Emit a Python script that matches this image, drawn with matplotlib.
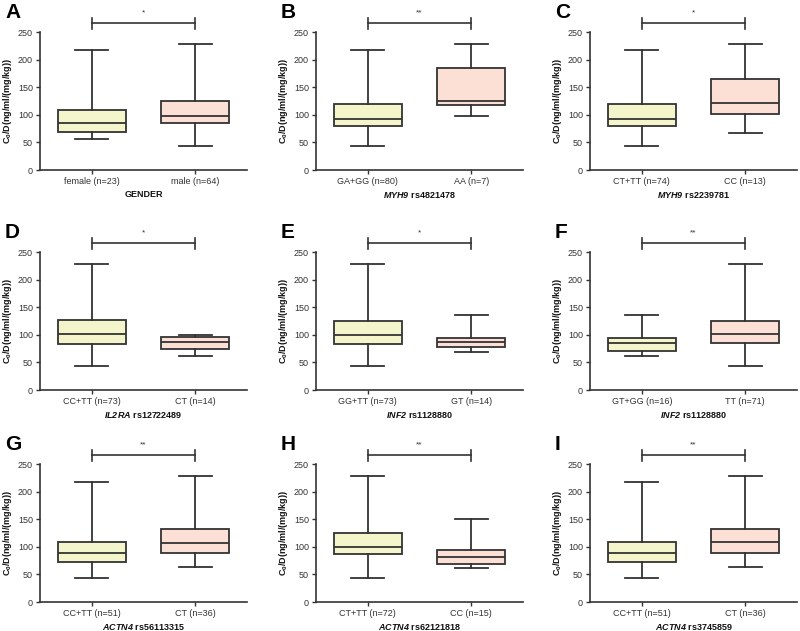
import matplotlib
matplotlib.use("Agg")
import matplotlib.pyplot as plt

plt.rcParams['font.family'] = ['Liberation Sans', 'DejaVu Sans']
plt.rcParams['mathtext.fontset'] = 'custom'
plt.rcParams['mathtext.rm'] = 'Liberation Sans'
plt.rcParams['mathtext.bf'] = 'Liberation Sans:bold'
plt.rcParams['mathtext.it'] = 'Liberation Sans:italic'
plt.rcParams['mathtext.bfit'] = 'Liberation Sans:italic:bold'

# panel data
letters = ['A', 'B', 'C', 'D', 'E', 'F', 'G', 'H', 'I']
groups = [('female (n=23)', 'male (n=64)'),
          ('GA+GG (n=80)', 'AA (n=7)'),
          ('CT+TT (n=74)', 'CC (n=13)'),
          ('CC+TT (n=73)', 'CT (n=14)'),
          ('GG+TT (n=73)', 'GT (n=14)'),
          ('GT+GG (n=16)', 'TT (n=71)'),
          ('CC+TT (n=51)', 'CT (n=36)'),
          ('CT+TT (n=72)', 'CC (n=15)'),
          ('CC+TT (n=51)', 'CT (n=36)')]
genes = ['', 'MYH9', 'MYH9', 'IL2RA', 'INF2', 'INF2', 'ACTN4', 'ACTN4', 'ACTN4']
snps = ['GENDER', 'rs4821478', 'rs2239781', 'rs12722489', 'rs1128880',
        'rs1128880', 'rs56113315', 'rs62121818', 'rs3745859']
stars = ['*', '**', '*', '*', '*', '**', '**', '**', '**']

whis_lo = [(57, 43), (43, 98), (43, 67), (43, 62), (44, 69), (62, 44), (43, 63), (43, 61), (43, 63)]
q1 = [(68, 86), (80, 118), (80, 102), (84, 75), (84, 78), (71, 86), (72, 89), (87, 68), (72, 89)]
med = [(86, 98), (93, 125), (93, 121), (101, 87), (100, 87), (85, 101), (89, 107), (100, 82), (89, 108)]
q3 = [(109, 125), (119, 185), (119, 165), (126, 96), (125, 95), (94, 125), (109, 133), (125, 94), (109, 133)]
whis_hi = [(217, 228), (218, 228), (218, 228), (228, 99), (228, 135), (135, 228), (217, 228), (228, 151), (217, 228)]

fills = ['#F4F5CA', '#FDE0D5']
dark = '#333333'

W, H = 800, 631
fig = plt.figure(figsize=(8, 6.31), dpi=100)
lefts = [40, 316, 590]
tops = [32, 252, 464]
aw, ah = 207, 138

for i in range(9):
    r, c = divmod(i, 3)
    ax = fig.add_axes([lefts[c] / W, 1 - (tops[r] + ah) / H, aw / W, ah / H])
    stats = []
    for k in range(2):
        stats.append(dict(whislo=whis_lo[i][k], q1=q1[i][k], med=med[i][k],
                          q3=q3[i][k], whishi=whis_hi[i][k], fliers=[]))
    bp = ax.bxp(stats, positions=[1, 2], widths=0.66, capwidths=0.32,
                patch_artist=True, showfliers=False,
                boxprops=dict(edgecolor=dark, linewidth=1.3),
                medianprops=dict(color=dark, linewidth=1.3),
                whiskerprops=dict(color=dark, linewidth=1.3),
                capprops=dict(color=dark, linewidth=1.3))
    for patch, fc in zip(bp['boxes'], fills):
        patch.set_facecolor(fc)

    ax.set_xlim(0.5, 2.5)
    ax.set_ylim(0, 250)
    ax.set_yticks([0, 50, 100, 150, 200, 250])
    ax.set_xticks([1, 2])
    ax.set_xticklabels(groups[i])
    for s in ['top', 'right']:
        ax.spines[s].set_visible(False)
    for s in ['left', 'bottom']:
        ax.spines[s].set_linewidth(1.2)
        ax.spines[s].set_color(dark)
    ax.tick_params(direction='out', length=3, width=1, colors=dark,
                   labelsize=6.5, pad=2)
    ax.set_ylabel(r'C$_\mathbf{0}$/D(ng/ml/(mg/kg))', fontsize=6.5,
                  fontweight='bold', color='#111111', labelpad=3)
    if genes[i]:
        xl = r'$\mathbfit{' + genes[i] + '}$ ' + snps[i]
    else:
        xl = snps[i]
    ax.set_xlabel(xl, fontsize=6.5, fontweight='bold', color='#111111', labelpad=3)

    # significance bracket
    ax.plot([1, 2], [266, 266], color=dark, lw=1.2, clip_on=False)
    ax.plot([1, 1], [256, 276], color=dark, lw=1.2, clip_on=False)
    ax.plot([2, 2], [256, 276], color=dark, lw=1.2, clip_on=False)
    ax.text(1.5, 278, stars[i], ha='center', va='bottom', fontsize=6, color=dark)

    fig.text((lefts[c] - 35) / W, 1 - (tops[r] - 20) / H, letters[i],
             fontsize=15, fontweight='bold', ha='left', va='center')

fig.savefig('out.png', dpi=100)
